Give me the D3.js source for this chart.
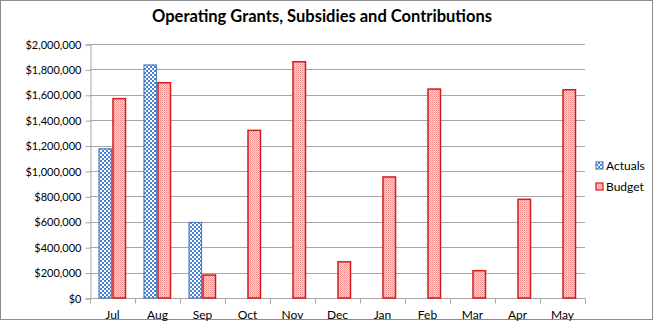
<!DOCTYPE html>
<html><head><meta charset="utf-8">
<script src="https://cdn.jsdelivr.net/npm/d3@7"></script>
<style>body{margin:0;background:#fff}svg{display:block}</style>
</head><body>
<svg id="c" width="654" height="321"></svg>
<script>
const months = ["Jul","Aug","Sep","Oct","Nov","Dec","Jan","Feb","Mar","Apr","May"];
const actuals = [1175000, 1835000, 595000, null, null, null, null, null, null, null, null];
const budget = [1570000, 1695000, 181000, 1320000, 1860000, 285000, 953000, 1645000, 215000, 777000, 1640000];
const yTicks = [0,200000,400000,600000,800000,1000000,1200000,1400000,1600000,1800000,2000000];
const seriesNames = ["Actuals","Budget"];

const svg = d3.select("#c");
const font = "Lato, 'Open Sans', sans-serif";
const defs = svg.append("defs");
// checker pattern for actuals
const pA = defs.append("pattern").attr("id","pA").attr("patternUnits","userSpaceOnUse").attr("width",4).attr("height",4);
pA.append("rect").attr("width",4).attr("height",4).attr("fill","#ffffff");
pA.append("rect").attr("width",2).attr("height",2).attr("fill","#4a80d4");
pA.append("rect").attr("x",2).attr("y",2).attr("width",2).attr("height",2).attr("fill","#4a80d4");
// dotted pattern for budget
const pB = defs.append("pattern").attr("id","pB").attr("patternUnits","userSpaceOnUse").attr("width",2).attr("height",2);
pB.append("rect").attr("width",2).attr("height",2).attr("fill","#fad6d6");
pB.append("rect").attr("width",1).attr("height",1).attr("fill","#ec8a8a");
pB.append("rect").attr("x",1).attr("y",1).attr("width",1).attr("height",1).attr("fill","#f2a8a8");

// frame
svg.append("rect").attr("x",0.5).attr("y",0.5).attr("width",652).attr("height",319)
  .attr("fill","#fff").attr("stroke","#8c8c8c");

const L = 90, R = 585, T = 44, B = 298;
const x = d3.scaleBand().domain(months).range([L,R]);
const y = d3.scaleLinear().domain([0,2000000]).range([B,T]);

// gridlines
svg.append("g").selectAll("line").data(yTicks).join("line")
  .attr("x1",L).attr("x2",R).attr("y1",d=>Math.round(y(d))+0.5).attr("y2",d=>Math.round(y(d))+0.5)
  .attr("stroke","#a6a6a6").attr("stroke-width",1);

// y axis
const yAxis = d3.axisLeft(y).tickValues(yTicks).tickSize(5).tickPadding(4)
  .tickFormat(d => "$" + d3.format(",")(d));
const gy = svg.append("g").attr("transform",`translate(${L+0.5},0.5)`).call(yAxis);
gy.select(".domain").attr("stroke","#a6a6a6");
gy.selectAll(".tick line").attr("stroke","#a6a6a6");
gy.selectAll(".tick text").attr("font-family",font).attr("font-size","11px").attr("fill","#000");

// x axis
const gx = svg.append("g").attr("transform",`translate(0,${B+0.5})`);
gx.append("line").attr("x1",L).attr("x2",R).attr("stroke","#a6a6a6");
const bounds = months.map(m=>x(m)).concat([R]);
gx.selectAll("line.tk").data(bounds).join("line").attr("class","tk")
  .attr("x1",d=>Math.round(d)+0.5).attr("x2",d=>Math.round(d)+0.5).attr("y1",0).attr("y2",5).attr("stroke","#a6a6a6");
gx.selectAll("text").data(months).join("text")
  .attr("x",d=>x(d)+x.bandwidth()/2).attr("y",20)
  .attr("text-anchor","middle").attr("font-family",font).attr("font-size","12px").text(d=>d);

// bars
const bw = 13.5;
const bars = svg.append("g");
months.forEach((m,i)=>{
  const cx = x(m) + x.bandwidth()/2;
  if (actuals[i] != null) {
    bars.append("rect").attr("x",cx-bw).attr("y",y(actuals[i])).attr("width",bw-1).attr("height",B-y(actuals[i]))
      .attr("fill","url(#pA)").attr("stroke","#4f81bd").attr("stroke-width",1.2);
  }
  if (budget[i] != null) {
    bars.append("rect").attr("x",cx+0.5).attr("y",y(budget[i])).attr("width",bw-1).attr("height",B-y(budget[i]))
      .attr("fill","url(#pB)").attr("stroke","#d01c1c").attr("stroke-width",1.5);
  }
});

// title
svg.append("text").attr("x",322).attr("y",22).attr("text-anchor","middle")
  .attr("font-family",font).attr("font-weight","bold").attr("font-size","16.5px").attr("fill","#000")
  .text("Operating Grants, Subsidies and Contributions");

// legend
const lg = svg.append("g");
const fills = ["url(#pA)","url(#pB)"], strokes = ["#4f81bd","#d01c1c"];
seriesNames.forEach((s,i)=>{
  const yy = 166 + i*21;
  lg.append("rect").attr("x",596).attr("y",yy-4).attr("width",7).attr("height",7)
    .attr("fill",fills[i]).attr("stroke",strokes[i]).attr("stroke-width",1.2);
  lg.append("text").attr("x",606).attr("y",yy+4).attr("font-family",font).attr("font-size","12px").text(s);
});
</script>
</body></html>
